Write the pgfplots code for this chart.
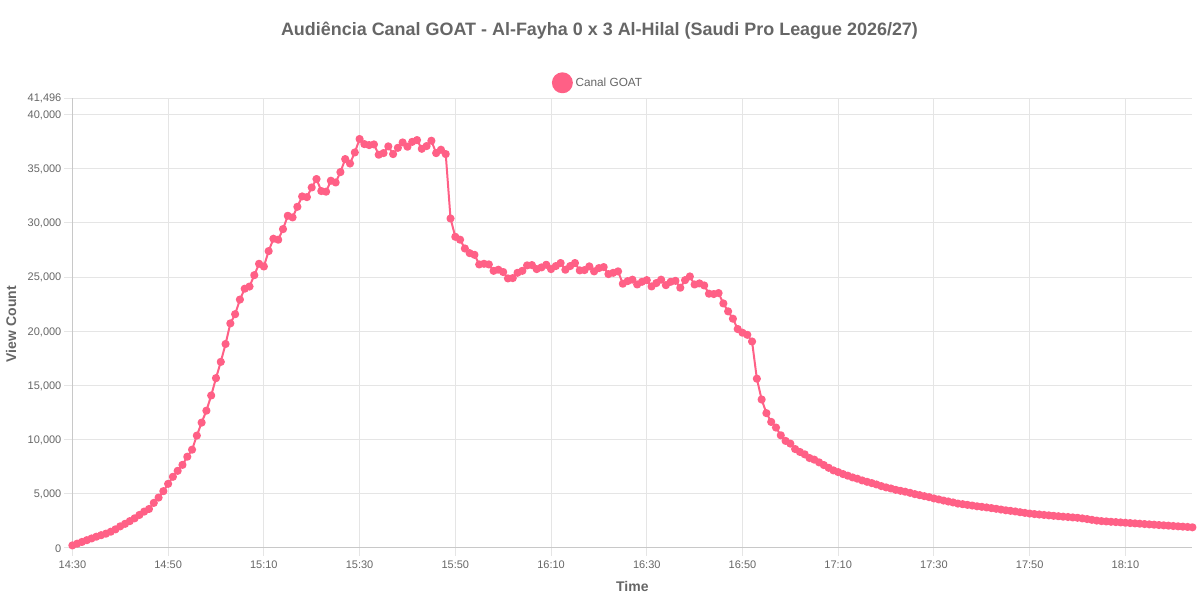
\documentclass[border=0pt]{standalone}
\usepackage{pgfplots}
\pgfplotsset{compat=1.18}
\usepackage{fontspec}
\setmainfont{Liberation Sans}
\definecolor{ser}{HTML}{FF6086}
\definecolor{txt}{HTML}{666666}
\definecolor{gridc}{HTML}{E5E5E5}
\definecolor{axc}{HTML}{C8C8C8}
\begin{document}
\begin{tikzpicture}[x=0.75pt,y=0.75pt]
\useasboundingbox (0,0) rectangle (1200,600);
\node[font=\fontsize{13.46pt}{16pt}\selectfont\bfseries,text=txt,anchor=center] at (599.5,569) {Audiência Canal GOAT - Al-Fayha 0 x 3 Al-Hilal (Saudi Pro League 2026/27)};
\begin{axis}[
  at={(72.4*0.75pt,52*0.75pt)},anchor=south west,
  scale only axis,width=840pt,height=337.35pt,
  xmin=0,xmax=234,ymin=0,ymax=41496,
  clip=false,
  scaled y ticks=false,
  axis lines=left,
  axis line style={draw=axc,line width=0.75pt,-},
  xtick={0,20,40,60,80,100,120,140,160,180,200,220},
  xticklabels={14:30,14:50,15:10,15:30,15:50,16:10,16:30,16:50,17:10,17:30,17:50,18:10},
  ytick={0,5000,10000,15000,20000,25000,30000,35000,40000,41496},
  yticklabels={0,{5,000},{10,000},{15,000},{20,000},{25,000},{30,000},{35,000},{40,000},{41,496}},
  grid=both,
  grid style={draw=gridc,line width=0.75pt},
  tick style={draw=gridc,line width=0.75pt},
  tick align=outside,
  major tick length=6pt,
  tick label style={font=\fontsize{8.25pt}{10pt}\selectfont,text=txt},
  xticklabel style={yshift=-0.1pt},
  yticklabel style={xshift=1.25pt,yshift=-0.5pt},
  xlabel={Time},ylabel={View Count},
  label style={font=\fontsize{10.5pt}{12pt}\selectfont\bfseries,text=txt},
  xlabel style={at={(axis description cs:0.5,0)},anchor=center,yshift=-28.9pt},
  ylabel style={at={(axis description cs:-0.0548,0.4977)},anchor=center},
  legend style={at={(0.5,1)},anchor=south,xshift=-25.5pt,yshift=3.5pt,draw=none,fill=none,inner sep=0pt,
    font=\fontsize{8.85pt}{10pt}\selectfont,text=txt,legend cell align=left},
  legend image code/.code={\fill[ser] (0.1cm,0) circle (7.1pt);},
]
\addplot[color=ser,line width=1.5pt,line join=round,mark=*,mark size=2.45pt,mark options={fill=ser,draw=ser,line width=1.2pt,solid}] table[x=m,y=v] {
m v
0 240
1 400
2 560
3 720
4 880
5 1040
6 1180
7 1320
8 1500
9 1720
10 2000
11 2230
12 2480
13 2740
14 3050
15 3360
16 3600
17 4160
18 4650
19 5240
20 5920
21 6570
22 7120
23 7670
24 8420
25 9070
26 10370
27 11570
28 12670
29 14070
30 15670
31 17170
32 18820
33 20720
34 21570
35 22920
36 23920
37 24120
38 25170
39 26220
40 25970
41 27390
42 28530
43 28440
44 29420
45 30650
46 30500
47 31480
48 32430
49 32370
50 33260
51 34040
52 32930
53 32870
54 33880
55 33720
56 34680
57 35880
58 35470
59 36490
60 37730
61 37260
62 37170
63 37230
64 36280
65 36430
66 37050
67 36340
68 36920
69 37410
70 37020
71 37470
72 37630
73 36830
74 37080
75 37570
76 36430
77 36740
78 36340
79 30400
80 28710
81 28440
82 27630
83 27200
84 27050
85 26160
86 26220
87 26160
88 25570
89 25670
90 25460
91 24870
92 24900
93 25390
94 25570
95 26070
96 26100
97 25730
98 25885
99 26130
100 25730
101 26010
102 26290
103 25670
104 26010
105 26290
106 25610
107 25640
108 25980
109 25520
110 25820
111 25915
112 25270
113 25390
114 25520
115 24380
116 24620
117 24750
118 24310
119 24560
120 24710
121 24130
122 24440
123 24750
124 24250
125 24560
126 24650
127 24010
128 24710
129 25050
130 24310
131 24410
132 24220
133 23460
134 23430
135 23520
136 22560
137 21830
138 21150
139 20200
140 19860
141 19670
142 19050
143 15620
144 13700
145 12440
146 11630
147 11110
148 10400
149 9880
150 9630
151 9130
152 8860
153 8640
154 8300
155 8150
156 7900
157 7650
158 7400
159 7160
160 7000
161 6820
162 6670
163 6510
164 6390
165 6230
166 6110
167 5990
168 5860
169 5710
170 5590
171 5490
172 5370
173 5280
174 5190
175 5090
176 4970
177 4880
178 4780
179 4690
180 4570
181 4480
182 4380
183 4290
184 4200
185 4100
186 4040
187 3980
188 3920
189 3850
190 3800
191 3740
192 3680
193 3620
194 3550
195 3480
196 3430
197 3370
198 3300
199 3240
200 3180
201 3130
202 3090
203 3050
204 3010
205 2970
206 2930
207 2890
208 2860
209 2820
210 2790
211 2730
212 2670
213 2600
214 2530
215 2480
216 2450
217 2420
218 2390
219 2360
220 2330
221 2300
222 2270
223 2240
224 2210
225 2180
226 2150
227 2120
228 2090
229 2060
230 2030
231 2000
232 1970
233 1940
234 1910
};
\addlegendentry{Canal GOAT}
\end{axis}
\end{tikzpicture}
\end{document}
